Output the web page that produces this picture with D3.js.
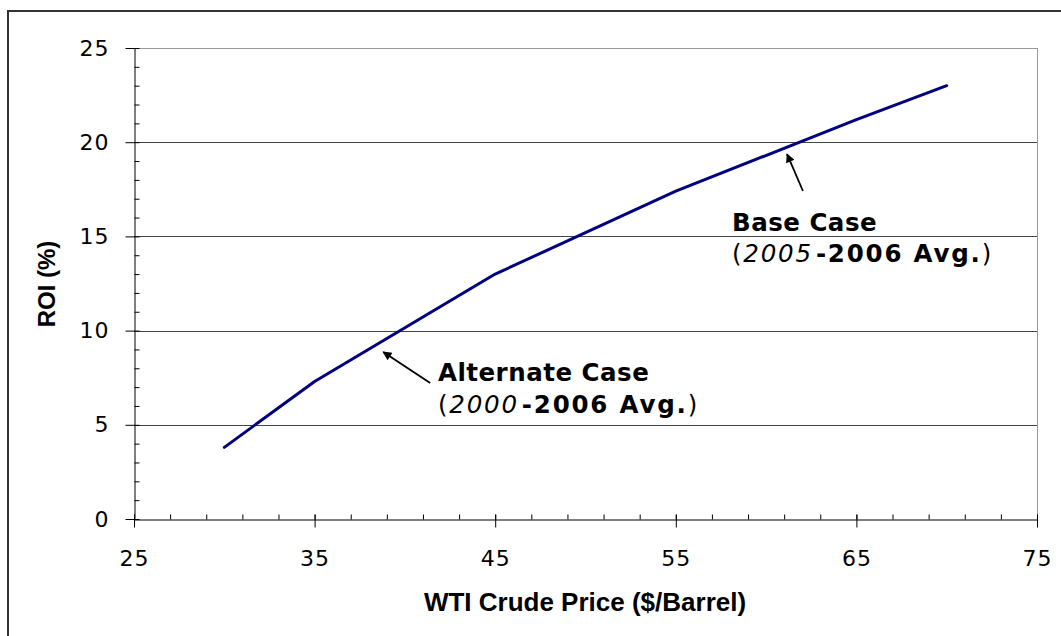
<!DOCTYPE html>
<html>
<head>
<meta charset="utf-8">
<script src="https://cdn.jsdelivr.net/npm/d3@7"></script>
<style>
  html, body { margin: 0; padding: 0; background: #fff; }
  svg { display: block; }
  .tick text { font-family: "DejaVu Sans", Verdana, sans-serif; }
</style>
</head>
<body>
<div id="chart"></div>
<script>
// WTI price ($/barrel) vs ROI (%)
const prices = [30, 35, 45, 55, 65, 70];
const roi = [3.8, 7.3, 13.0, 17.4, 21.2, 23.0];

const xTicks = [25, 35, 45, 55, 65, 75];
const yTicks = [0, 5, 10, 15, 20, 25];

// arrow head (hx,hy), arrow tail (ax,ay), text start (tx,ty) in data units
const notes = [
    {label: "Alternate Case", start: "2000", hx: 38.8, hy: 8.86, ax: 41.4, ay: 7.22, tx: 41.83, ty: 7.32},
    {label: "Base Case", start: "2005", hx: 61.16, hy: 19.37, ax: 62.04, ay: 17.41, tx: 58.11, ty: 15.29}
];

const W = 1061, H = 636;
const svg = d3.select("#chart").append("svg")
    .attr("width", W)
    .attr("height", H);

// outer frame (right/bottom edges fall outside the picture)
svg.append("rect")
    .attr("x", 8).attr("y", 11)
    .attr("width", 1200).attr("height", 800)
    .attr("fill", "none")
    .attr("stroke", "#333")
    .attr("stroke-width", 2);

const x = d3.scaleLinear().domain([25, 75]).range([134, 1037]);
const y = d3.scaleLinear().domain([0, 25]).range([519, 48]);

// gridlines
svg.append("g")
    .selectAll("line")
    .data(yTicks.filter(d => d > 0))
    .join("line")
    .attr("x1", x(25)).attr("x2", x(75))
    .attr("y1", d => Math.round(y(d)) + 0.5)
    .attr("y2", d => Math.round(y(d)) + 0.5)
    .attr("stroke", d => d === 25 ? "#999" : "#444")
    .attr("stroke-width", 1);

// right border of plot area
svg.append("line")
    .attr("x1", x(75) + 0.5).attr("x2", x(75) + 0.5)
    .attr("y1", y(25)).attr("y2", y(0))
    .attr("stroke", "#999");

// minor ticks (inside)
svg.append("g")
    .attr("transform", `translate(0,${Math.round(y(0)) + 0.5})`)
    .call(d3.axisBottom(x).tickValues(d3.range(25, 76, 2)).tickSize(-5).tickFormat(""))
    .call(g => g.select(".domain").remove());
svg.append("g")
    .attr("transform", `translate(${Math.round(x(25)) + 0.5},0)`)
    .call(d3.axisLeft(y).tickValues(d3.range(0, 26, 1)).tickSize(-5).tickFormat(""))
    .call(g => g.select(".domain").remove());

// major axes
const xAxis = svg.append("g")
    .attr("transform", `translate(0,${Math.round(y(0)) + 0.5})`)
    .call(d3.axisBottom(x).tickValues(xTicks).tickSizeInner(8).tickSizeOuter(0).tickPadding(23));
xAxis.selectAll(".tick text").attr("font-size", 22).attr("letter-spacing", 1);
xAxis.selectAll(".tick line").attr("y1", -5);

const yAxis = svg.append("g")
    .attr("transform", `translate(${Math.round(x(25)) + 0.5},0)`)
    .call(d3.axisLeft(y).tickValues(yTicks).tickSizeInner(9).tickSizeOuter(0).tickPadding(16));
yAxis.selectAll(".tick text").attr("font-size", 22).attr("letter-spacing", 1);

// axis titles
svg.append("text")
    .attr("x", 585).attr("y", 611)
    .attr("text-anchor", "middle")
    .attr("font-family", "Liberation Sans, Arial, sans-serif")
    .attr("font-weight", "bold")
    .attr("font-size", 26)
    .text("WTI Crude Price ($/Barrel)");

svg.append("text")
    .attr("transform", "translate(55,284) rotate(-90)")
    .attr("text-anchor", "middle")
    .attr("font-family", "Liberation Sans, Arial, sans-serif")
    .attr("font-weight", "bold")
    .attr("font-size", 24)
    .text("ROI (%)");

// the curve
const pts = prices.map((p, i) => [p, roi[i]]);
svg.append("path")
    .datum(pts)
    .attr("fill", "none")
    .attr("stroke", "#000080")
    .attr("stroke-width", 3)
    .attr("stroke-linejoin", "round")
    .attr("stroke-linecap", "round")
    .attr("d", d3.line().x(d => x(d[0])).y(d => y(d[1])));

// annotations
svg.append("defs").append("marker")
    .attr("id", "head")
    .attr("viewBox", "0 0 10 10")
    .attr("refX", 9).attr("refY", 5)
    .attr("markerWidth", 11).attr("markerHeight", 9)
    .attr("markerUnits", "userSpaceOnUse")
    .attr("orient", "auto")
    .append("path")
    .attr("d", "M0,0 L10,5 L0,10 Z")
    .attr("fill", "#000");

const note = svg.append("g")
    .selectAll("g")
    .data(notes)
    .join("g");

note.append("line")
    .attr("x1", d => x(d.ax))
    .attr("y1", d => y(d.ay))
    .attr("x2", d => x(d.hx))
    .attr("y2", d => y(d.hy))
    .attr("stroke", "#000")
    .attr("stroke-width", 1.8)
    .attr("marker-end", "url(#head)");

const t = note.append("text")
    .attr("font-family", "DejaVu Sans, Verdana, sans-serif")
    .attr("font-size", 24.5)
    .attr("x", d => x(d.tx))
    .attr("y", d => y(d.ty));

t.append("tspan")
    .attr("font-weight", "bold")
    .attr("letter-spacing", 0.5)
    .text(d => d.label);
t.append("tspan")
    .attr("x", d => x(d.tx))
    .attr("dy", 31.5)
    .attr("letter-spacing", 1.8)
    .text("(");
t.append("tspan")
    .attr("font-style", "italic")
    .attr("letter-spacing", 1.8)
    .text(d => d.start);
t.append("tspan")
    .attr("font-weight", "bold")
    .attr("letter-spacing", 1.8)
    .attr("dx", 3)
    .text("-2006 Avg.");
t.append("tspan")
    .text(")");
</script>
</body>
</html>
